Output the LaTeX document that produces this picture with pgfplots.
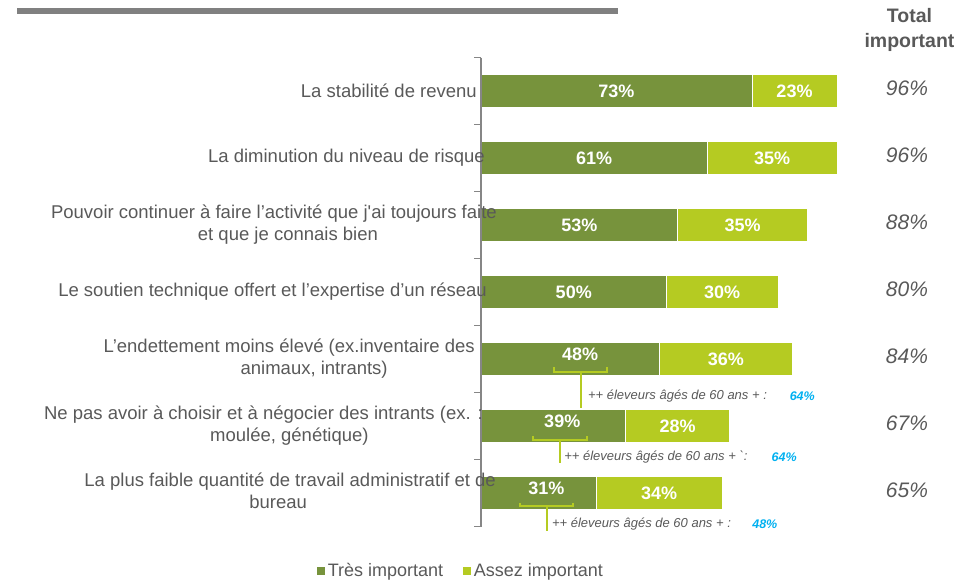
\documentclass[border=0pt]{standalone}
\usepackage{pgfplots}
\pgfplotsset{compat=1.18}
\usepackage{fontspec}
\setmainfont{Liberation Sans}
\definecolor{dgreen}{HTML}{77933C}
\definecolor{lgreen}{HTML}{B5CB22}
\definecolor{txt}{HTML}{595959}
\definecolor{ablue}{HTML}{00B0F0}
\definecolor{axgray}{HTML}{868686}
\pgfplotsset{
  frame/.style={at={(481pt,52.5pt)}, anchor=south west,
    scale only axis, width=371pt, height=469pt,
    xmin=0, xmax=100, ymin=-0.5, ymax=6.5, y dir=reverse,
    enlargelimits=false, clip=false},
}
\newcommand{\two}[2]{\begin{tabular}{@{}c@{}}#1\\#2\end{tabular}}
\begin{document}
\begin{tikzpicture}
\useasboundingbox (0,0) rectangle (963pt,579pt);
\begin{axis}[
  frame, axis on top,
  xbar stacked, bar width=33pt,
  axis x line=none, axis y line*=left,
  y axis line style={-, draw=axgray, line width=1.3pt},
  xtick=\empty,
  ytick={0,...,6},
  yticklabels={
    {La stabilité de revenu\hspace*{8pt}},
    {La diminution du niveau de risque},
    {\two{Pouvoir continuer à faire l’activité que j\textquotesingle ai toujours faite}{\hspace*{28pt}et que je connais bien}\hspace*{-12pt}},
    {Le soutien technique offert et l’expertise d’un réseau\hspace*{-2pt}},
    {\two{L’endettement moins élevé (ex.inventaire des}{\hspace*{50pt}animaux, intrants)}\hspace*{10pt}},
    {\two{Ne pas avoir à choisir et à négocier des intrants (ex. :}{\hspace*{52pt}moulée, génétique)}\hspace*{2pt}},
    {\two{La plus faible quantité de travail administratif et de}{bureau\hspace*{24pt}}\hspace*{-11pt}}},
  yticklabel style={font=\fontsize{18.5}{22}\selectfont, text=txt, inner sep=0pt, xshift=4pt},
  major tick length=0pt,
  minor ytick={-0.5,0.5,...,6.5},
  minor tick length=7pt,
  tick align=outside,
  tick style={draw=axgray, line width=1pt},
  legend style={at={(axis cs:-5.5,7.16)}, anchor=center, draw=none, fill=none,
    legend columns=2, font=\fontsize{18}{20}\selectfont, text=txt,
    /tikz/every even column/.append style={column sep=17pt},
    inner sep=0pt},
  legend image code/.code={\fill[#1] (0pt,-4.5pt) rectangle (9pt,4.5pt);},
]
\addplot[fill=dgreen, draw=white, line width=0.6pt]
  coordinates {(73,0) (61,1) (53,2) (50,3) (48,4) (39,5) (31,6)};
\addlegendentry{Très important}
\addplot[fill=lgreen, draw=white, line width=0.6pt]
  coordinates {(23,0) (35,1) (35,2) (30,3) (36,4) (28,5) (34,6)};
\addlegendentry{Assez important}
% top gray bar
\fill[color=gray] (axis cs:-125.1,-1.239) rectangle (axis cs:36.9,-1.149);
% header of totals column
\node[font=\fontsize{19.5}{25}\selectfont\bfseries, text=txt, align=center] at (axis cs:115.5,-0.905) {Total\\important};
\end{axis}
% overlay axis for value labels, totals and annotations
\begin{axis}[frame, hide axis]
\addplot[draw=none, point meta=explicit symbolic,
  nodes near coords, every node near coord/.append style={anchor=center, text=white, font=\fontsize{18}{20}\selectfont\bfseries}]
  coordinates {(36.5,0)[73\%] (30.5,1)[61\%] (26.5,2)[53\%] (25,3)[50\%]
               (26.7,3.93)[48\%] (21.9,4.93)[39\%] (17.6,5.93)[31\%]};
\addplot[draw=none, point meta=explicit symbolic,
  nodes near coords, every node near coord/.append style={anchor=center, text=white, font=\fontsize{18}{20}\selectfont\bfseries}]
  coordinates {(84.5,0)[23\%] (78.5,1)[35\%] (70.5,2)[35\%] (65,3)[30\%]
               (66,4)[36\%] (53,5)[28\%] (48,6)[34\%]};
\addplot[draw=none, point meta=explicit symbolic,
  nodes near coords, every node near coord/.append style={anchor=center, text=txt, font=\fontsize{21}{24}\selectfont\itshape}]
  coordinates {(114.8,-0.04)[96\%] (114.8,0.96)[96\%] (114.8,1.96)[88\%] (114.8,2.96)[80\%]
               (114.8,3.96)[84\%] (114.8,4.96)[67\%] (114.8,5.96)[65\%]};
% brackets
\draw[lgreen, line width=1.8pt] (axis cs:19.7,4.12) -- (axis cs:19.7,4.19) -- (axis cs:34.0,4.19) -- (axis cs:34.0,4.12);
\draw[lgreen, line width=1.8pt] (axis cs:27.0,4.19) -- (axis cs:27.0,4.73);
\draw[lgreen, line width=1.8pt] (axis cs:14.0,5.15) -- (axis cs:14.0,5.21) -- (axis cs:28.6,5.21) -- (axis cs:28.6,5.15);
\draw[lgreen, line width=1.8pt] (axis cs:21.3,5.21) -- (axis cs:21.3,5.55);
\draw[lgreen, line width=1.8pt] (axis cs:10.5,6.15) -- (axis cs:10.5,6.19) -- (axis cs:24.8,6.19) -- (axis cs:24.8,6.15);
\draw[lgreen, line width=1.8pt] (axis cs:17.8,6.19) -- (axis cs:17.8,6.57);
% annotation texts
\node[anchor=west, inner sep=0pt, font=\fontsize{13}{15}\selectfont\itshape, text=txt] at (axis cs:28.8,4.55) {++ éleveurs âgés de 60 ans + :};
\node[anchor=west, inner sep=0pt, font=\fontsize{13}{15}\selectfont\itshape, text=txt] at (axis cs:22.4,5.46) {++ éleveurs âgés de 60 ans + \textasciigrave:};
\node[anchor=west, inner sep=0pt, font=\fontsize{13}{15}\selectfont\itshape, text=txt] at (axis cs:19.1,6.46) {++ éleveurs âgés de 60 ans + :};
\node[font=\fontsize{12.5}{15}\selectfont\bfseries\itshape, text=ablue] at (axis cs:86.6,4.55) {64\%};
\node[font=\fontsize{12.5}{15}\selectfont\bfseries\itshape, text=ablue] at (axis cs:81.7,5.46) {64\%};
\node[font=\fontsize{12.5}{15}\selectfont\bfseries\itshape, text=ablue] at (axis cs:76.5,6.46) {48\%};
\end{axis}
\end{tikzpicture}
\end{document}
